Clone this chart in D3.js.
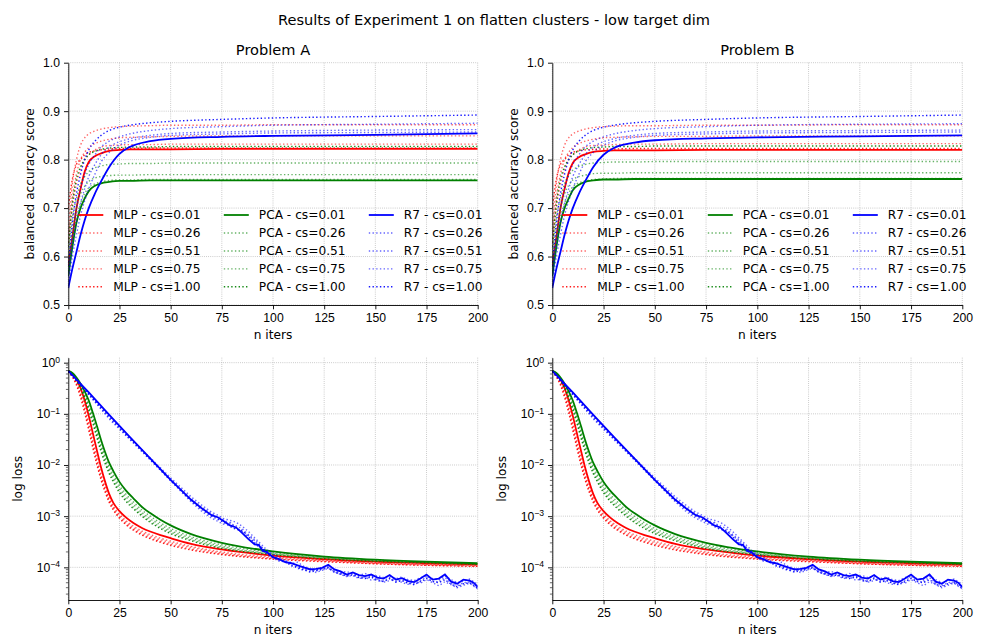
<!DOCTYPE html>
<html>
<head>
<meta charset="utf-8">
<script src="https://cdn.jsdelivr.net/npm/d3@7"></script>
<style>
  body { margin: 0; background: #fff; }
  svg { font-family: 'DejaVu Sans', sans-serif; }
</style>
</head>
<body>
<svg id="chart" width="988" height="636"></svg>
<script>

// ---- data ----

const methods = ['MLP', 'PCA', 'R7'];
const methodColors = ['red', 'green', 'blue'];
const csLabels = ['0.01', '0.26', '0.51', '0.75', '1.00'];

const xTicks = [0, 25, 50, 75, 100, 125, 150, 175, 200];
const accTicks = [0.5, 0.6, 0.7, 0.8, 0.9, 1.0];
const lossDecades = [1, 0.1, 0.01, 0.001, 0.0001];

// balanced accuracy, sampled at these iterations (one array per cs value)
const accIters = [0, 2, 4, 6, 8, 10, 13, 16, 20, 25, 30, 40, 50, 75, 100, 150, 200];

const accA_MLP = [
  [0.58, 0.64, 0.70, 0.74, 0.775, 0.795, 0.807, 0.813, 0.818, 0.820, 0.821, 0.821, 0.821, 0.822, 0.822, 0.822, 0.822],
  [0.62, 0.70, 0.75, 0.78, 0.80, 0.81, 0.82, 0.826, 0.829, 0.830, 0.831, 0.831, 0.832, 0.832, 0.832, 0.832, 0.832],
  [0.63, 0.72, 0.77, 0.80, 0.815, 0.825, 0.833, 0.838, 0.842, 0.845, 0.846, 0.847, 0.848, 0.849, 0.849, 0.849, 0.849],
  [0.65, 0.75, 0.80, 0.83, 0.845, 0.853, 0.859, 0.863, 0.866, 0.868, 0.869, 0.870, 0.871, 0.871, 0.872, 0.872, 0.872],
  [0.70, 0.76, 0.79, 0.80, 0.81, 0.815, 0.818, 0.820, 0.822, 0.823, 0.823, 0.824, 0.824, 0.824, 0.824, 0.824, 0.824]
];
const accA_PCA = [
  [0.56, 0.62, 0.67, 0.70, 0.72, 0.735, 0.746, 0.751, 0.754, 0.756, 0.756, 0.757, 0.757, 0.757, 0.757, 0.757, 0.757],
  [0.57, 0.63, 0.68, 0.71, 0.73, 0.742, 0.750, 0.754, 0.757, 0.758, 0.758, 0.759, 0.759, 0.759, 0.759, 0.759, 0.759],
  [0.58, 0.65, 0.70, 0.73, 0.745, 0.755, 0.762, 0.765, 0.767, 0.768, 0.768, 0.769, 0.769, 0.769, 0.769, 0.769, 0.769],
  [0.60, 0.68, 0.72, 0.75, 0.765, 0.775, 0.783, 0.787, 0.790, 0.791, 0.792, 0.792, 0.793, 0.793, 0.793, 0.793, 0.793],
  [0.62, 0.71, 0.76, 0.785, 0.80, 0.81, 0.817, 0.821, 0.824, 0.825, 0.826, 0.826, 0.827, 0.827, 0.827, 0.827, 0.827]
];
const accA_R7 = [
  [0.535, 0.575, 0.61, 0.645, 0.675, 0.70, 0.73, 0.755, 0.785, 0.812, 0.826, 0.838, 0.843, 0.847, 0.849, 0.851, 0.854],
  [0.54, 0.60, 0.645, 0.685, 0.715, 0.74, 0.77, 0.795, 0.815, 0.83, 0.838, 0.846, 0.850, 0.853, 0.855, 0.856, 0.857],
  [0.55, 0.62, 0.67, 0.71, 0.74, 0.765, 0.79, 0.81, 0.826, 0.837, 0.843, 0.850, 0.854, 0.857, 0.859, 0.861, 0.862],
  [0.56, 0.64, 0.70, 0.74, 0.77, 0.79, 0.81, 0.826, 0.838, 0.847, 0.853, 0.860, 0.864, 0.868, 0.871, 0.873, 0.875],
  [0.58, 0.67, 0.73, 0.77, 0.80, 0.82, 0.838, 0.85, 0.86, 0.867, 0.871, 0.876, 0.879, 0.883, 0.886, 0.889, 0.892]
];

const accB_MLP = [
  [0.58, 0.64, 0.70, 0.74, 0.773, 0.793, 0.805, 0.811, 0.816, 0.818, 0.819, 0.819, 0.819, 0.820, 0.820, 0.820, 0.820],
  [0.62, 0.70, 0.75, 0.78, 0.80, 0.81, 0.82, 0.826, 0.829, 0.830, 0.831, 0.832, 0.832, 0.833, 0.833, 0.833, 0.833],
  [0.63, 0.72, 0.77, 0.80, 0.815, 0.825, 0.833, 0.838, 0.842, 0.845, 0.846, 0.847, 0.848, 0.848, 0.849, 0.849, 0.849],
  [0.65, 0.75, 0.80, 0.83, 0.845, 0.853, 0.859, 0.863, 0.866, 0.868, 0.869, 0.870, 0.870, 0.871, 0.871, 0.872, 0.872],
  [0.70, 0.76, 0.79, 0.80, 0.81, 0.815, 0.818, 0.820, 0.821, 0.822, 0.822, 0.823, 0.823, 0.823, 0.823, 0.823, 0.823]
];
const accB_PCA = [
  [0.56, 0.62, 0.67, 0.70, 0.72, 0.737, 0.748, 0.754, 0.757, 0.759, 0.759, 0.760, 0.760, 0.760, 0.760, 0.760, 0.760],
  [0.57, 0.63, 0.68, 0.71, 0.73, 0.744, 0.752, 0.756, 0.759, 0.760, 0.761, 0.761, 0.761, 0.761, 0.761, 0.761, 0.761],
  [0.58, 0.65, 0.70, 0.73, 0.747, 0.758, 0.765, 0.768, 0.771, 0.772, 0.772, 0.773, 0.773, 0.773, 0.773, 0.773, 0.773],
  [0.60, 0.68, 0.72, 0.75, 0.767, 0.778, 0.786, 0.790, 0.793, 0.794, 0.795, 0.795, 0.796, 0.796, 0.796, 0.796, 0.796],
  [0.62, 0.71, 0.76, 0.785, 0.80, 0.81, 0.818, 0.822, 0.825, 0.826, 0.827, 0.827, 0.828, 0.828, 0.828, 0.828, 0.828]
];
const accB_R7 = [
  [0.535, 0.575, 0.61, 0.645, 0.675, 0.70, 0.73, 0.755, 0.785, 0.810, 0.824, 0.835, 0.840, 0.844, 0.846, 0.848, 0.850],
  [0.54, 0.60, 0.645, 0.685, 0.715, 0.74, 0.77, 0.795, 0.815, 0.83, 0.838, 0.846, 0.850, 0.853, 0.855, 0.856, 0.857],
  [0.55, 0.62, 0.67, 0.71, 0.74, 0.765, 0.79, 0.81, 0.826, 0.837, 0.843, 0.850, 0.854, 0.857, 0.859, 0.860, 0.861],
  [0.56, 0.64, 0.70, 0.74, 0.77, 0.79, 0.81, 0.826, 0.838, 0.847, 0.853, 0.860, 0.864, 0.868, 0.871, 0.873, 0.874],
  [0.58, 0.67, 0.73, 0.77, 0.80, 0.82, 0.838, 0.85, 0.86, 0.867, 0.871, 0.876, 0.879, 0.883, 0.886, 0.889, 0.892]
];

// log loss, read as log10(loss) off the log axis (same in both problems)
const lossIters = [0, 2, 4, 6, 8, 10, 12, 14, 16, 18, 20, 22, 25, 28, 32, 36, 40, 45, 50, 60, 75, 100, 125, 150, 175, 200];

const lossMLP = [
  [-0.16, -0.22, -0.33, -0.50, -0.74, -1.04, -1.38, -1.72, -2.05, -2.33, -2.57, -2.74, -2.90, -3.02, -3.14, -3.23, -3.30, -3.37, -3.43, -3.54, -3.65, -3.77, -3.84, -3.89, -3.92, -3.94],
  [-0.17, -0.25, -0.38, -0.58, -0.85, -1.17, -1.52, -1.86, -2.17, -2.43, -2.64, -2.80, -2.96, -3.08, -3.20, -3.29, -3.36, -3.43, -3.49, -3.59, -3.70, -3.80, -3.86, -3.91, -3.94, -3.96],
  [-0.17, -0.26, -0.40, -0.62, -0.90, -1.23, -1.58, -1.92, -2.22, -2.47, -2.67, -2.83, -2.99, -3.11, -3.23, -3.32, -3.39, -3.46, -3.52, -3.61, -3.72, -3.82, -3.87, -3.92, -3.95, -3.97],
  [-0.18, -0.27, -0.42, -0.65, -0.94, -1.28, -1.63, -1.96, -2.26, -2.50, -2.70, -2.86, -3.02, -3.14, -3.26, -3.35, -3.42, -3.49, -3.55, -3.64, -3.74, -3.83, -3.88, -3.93, -3.96, -3.98],
  [-0.18, -0.28, -0.44, -0.68, -0.98, -1.32, -1.67, -2.00, -2.29, -2.53, -2.73, -2.88, -3.04, -3.16, -3.28, -3.37, -3.44, -3.51, -3.57, -3.66, -3.75, -3.84, -3.89, -3.93, -3.96, -3.98]
];
const lossPCA = [
  [-0.16, -0.20, -0.29, -0.41, -0.56, -0.74, -0.98, -1.24, -1.51, -1.75, -1.96, -2.12, -2.33, -2.49, -2.66, -2.82, -2.94, -3.07, -3.18, -3.35, -3.52, -3.69, -3.79, -3.85, -3.89, -3.92],
  [-0.16, -0.21, -0.31, -0.44, -0.61, -0.81, -1.06, -1.33, -1.60, -1.83, -2.03, -2.19, -2.40, -2.56, -2.73, -2.88, -3.00, -3.13, -3.24, -3.40, -3.56, -3.71, -3.80, -3.86, -3.90, -3.93],
  [-0.17, -0.22, -0.32, -0.46, -0.64, -0.85, -1.11, -1.38, -1.65, -1.88, -2.08, -2.24, -2.45, -2.61, -2.78, -2.93, -3.05, -3.17, -3.28, -3.43, -3.59, -3.73, -3.81, -3.87, -3.90, -3.93],
  [-0.17, -0.23, -0.34, -0.48, -0.67, -0.89, -1.15, -1.43, -1.70, -1.93, -2.13, -2.29, -2.50, -2.66, -2.83, -2.97, -3.09, -3.21, -3.31, -3.46, -3.61, -3.74, -3.82, -3.88, -3.91, -3.94],
  [-0.17, -0.23, -0.35, -0.50, -0.70, -0.93, -1.19, -1.47, -1.74, -1.97, -2.17, -2.33, -2.54, -2.70, -2.86, -3.00, -3.12, -3.24, -3.34, -3.48, -3.63, -3.75, -3.83, -3.88, -3.91, -3.94]
];

const r7LossIters = [0, 10, 20, 30, 40, 50, 60, 65, 70, 73, 76, 79, 82, 85, 88, 91, 93, 95, 97, 100,
  103, 106, 109, 112, 115, 118, 121, 124, 127, 130, 133, 136, 139, 142, 145, 148, 151, 154, 157, 160,
  163, 166, 169, 172, 175, 178, 181, 184, 187, 190, 193, 196, 198, 200];

const lossR7 = [
  [-0.16, -0.58, -1.02, -1.45, -1.87, -2.29, -2.68, -2.84, -2.98, -3.02, -3.10, -3.18, -3.22, -3.33, -3.45, -3.55, -3.56, -3.68, -3.70, -3.80,
   -3.84, -3.90, -3.92, -3.96, -4.00, -4.04, -4.03, -4.01, -3.95, -4.04, -4.08, -4.14, -4.10, -4.15, -4.17, -4.14, -4.20, -4.22, -4.15, -4.24,
   -4.21, -4.27, -4.29, -4.22, -4.14, -4.24, -4.22, -4.14, -4.28, -4.32, -4.24, -4.26, -4.30, -4.38],
  [-0.17, -0.62, -1.10, -1.50, -1.90, -2.31, -2.72, -2.90, -3.04, -3.10, -3.16, -3.12, -3.24, -3.30, -3.38, -3.48, -3.58, -3.62, -3.74, -3.82,
   -3.88, -3.86, -3.95, -4.02, -4.06, -4.03, -4.10, -4.06, -4.02, -4.08, -4.14, -4.18, -4.16, -4.22, -4.19, -4.25, -4.23, -4.29, -4.26, -4.21,
   -4.30, -4.33, -4.27, -4.31, -4.24, -4.30, -4.36, -4.28, -4.34, -4.40, -4.35, -4.31, -4.37, -4.42],
  [-0.16, -0.60, -1.06, -1.48, -1.86, -2.25, -2.62, -2.78, -2.92, -2.98, -3.05, -3.08, -3.12, -3.20, -3.30, -3.42, -3.50, -3.58, -3.66, -3.74,
   -3.80, -3.88, -3.93, -3.90, -3.98, -4.02, -4.06, -4.00, -3.98, -4.06, -4.10, -4.08, -4.13, -4.16, -4.12, -4.18, -4.16, -4.20, -4.17, -4.22,
   -4.19, -4.24, -4.26, -4.20, -4.18, -4.22, -4.25, -4.17, -4.24, -4.30, -4.27, -4.23, -4.28, -4.33],
  [-0.17, -0.63, -1.08, -1.49, -1.89, -2.28, -2.66, -2.82, -2.95, -3.02, -3.08, -3.14, -3.19, -3.25, -3.36, -3.46, -3.53, -3.63, -3.69, -3.78,
   -3.85, -3.91, -3.90, -3.99, -4.03, -4.07, -4.05, -4.03, -4.00, -4.09, -4.12, -4.16, -4.13, -4.19, -4.21, -4.17, -4.24, -4.26, -4.20, -4.27,
   -4.25, -4.30, -4.32, -4.26, -4.19, -4.27, -4.29, -4.20, -4.31, -4.36, -4.30, -4.29, -4.33, -4.40],
  [-0.17, -0.61, -1.04, -1.46, -1.88, -2.30, -2.70, -2.86, -3.00, -3.06, -3.12, -3.20, -3.26, -3.28, -3.40, -3.52, -3.60, -3.64, -3.72, -3.80,
   -3.86, -3.89, -3.97, -4.00, -4.05, -4.09, -4.07, -4.04, -4.01, -4.10, -4.13, -4.17, -4.15, -4.20, -4.22, -4.19, -4.26, -4.28, -4.22, -4.29,
   -4.26, -4.31, -4.34, -4.28, -4.22, -4.28, -4.30, -4.24, -4.33, -4.38, -4.32, -4.30, -4.35, -4.41]
];

// ---- layout ----

const colsX = [[68.3, 477.7], [552.3, 962.3]];
const accY = [62.7, 305];
const lossY = [357.7, 600];
const lossDomain = [2.3e-5, 1.25];

const csAlpha = [1, 0.6, 0.6, 0.6, 0.9];
const gridColor = '#b0b0b0';
const fontSize = 12.2;

const svg = d3.select('#chart');

svg.append('text')
  .attr('x', 494)
  .attr('y', 25)
  .attr('text-anchor', 'middle')
  .style('font-size', '14.6px')
  .text('Results of Experiment 1 on flatten clusters - low target dim');


function styleLine(path, color, i) {
  path.attr('fill', 'none')
    .attr('stroke', color)
    .attr('stroke-opacity', csAlpha[i])
    .attr('stroke-width', i === 0 ? 1.8 : 1.4)
    .attr('stroke-dasharray', i === 0 ? null : '1.4,2.3');
  return path;
}


function drawGrid(g, x, y, yTicks, x0, x1, y0, y1) {

  g.selectAll('.vgrid')
    .data(xTicks)
    .enter()
    .append('line')
    .attr('x1', function(d) { return x(d); })
    .attr('x2', function(d) { return x(d); })
    .attr('y1', y0)
    .attr('y2', y1);

  g.selectAll('.hgrid')
    .data(yTicks)
    .enter()
    .append('line')
    .attr('x1', x0)
    .attr('x2', x1)
    .attr('y1', function(d) { return y(d); })
    .attr('y2', function(d) { return y(d); });

  g.selectAll('line')
    .attr('stroke', gridColor)
    .attr('stroke-width', 0.8)
    .attr('stroke-dasharray', '0.8,1.32');
}


function drawXAxis(g, x, yBottom, xCenter) {

  const ax = g.append('g')
    .attr('transform', 'translate(0,' + yBottom + ')')
    .call(d3.axisBottom(x).tickValues(xTicks).tickSize(4.3).tickPadding(4).tickSizeOuter(0));

  ax.selectAll('text').style('font-size', fontSize + 'px').attr('fill', '#000');
  ax.selectAll('line, path').attr('stroke', '#000').attr('stroke-width', 0.9);

  g.append('text')
    .attr('x', xCenter)
    .attr('y', yBottom + 34)
    .attr('text-anchor', 'middle')
    .style('font-size', fontSize + 'px')
    .text('n iters');
}


function drawLegend(g, x0, yTop) {

  const colText = [45, 190.5, 335.5];
  const rowY = [152.3, 170.3, 188.3, 206.2, 224.1];

  methods.forEach(function(m, mi) {
    csLabels.forEach(function(cs, i) {
      const ty = yTop + rowY[i];
      const tx = x0 + colText[mi];
      styleLine(g.append('line'), methodColors[mi], i)
        .attr('x1', tx - 35)
        .attr('x2', tx - 10)
        .attr('y1', ty)
        .attr('y2', ty);
      g.append('text')
        .attr('x', tx)
        .attr('y', ty)
        .attr('dy', '0.36em')
        .style('font-size', fontSize + 'px')
        .text(m + ' - cs=' + cs);
    });
  });
}


function drawPanel(col, title, accSets, clipId) {

  const x0 = colsX[col][0], x1 = colsX[col][1];
  const x = d3.scaleLinear().domain([0, 200]).range([x0, x1]);
  const xc = (x0 + x1) / 2;

  // ---- accuracy ----
  const yA = d3.scaleLinear().domain([0.5, 1.0]).range([accY[1], accY[0]]);
  const gA = svg.append('g');

  svg.append('clipPath').attr('id', clipId + 'a')
    .append('rect').attr('x', x0).attr('y', accY[0]).attr('width', x1 - x0).attr('height', accY[1] - accY[0]);

  drawGrid(gA.append('g'), x, yA, accTicks, x0, x1, accY[0], accY[1]);

  const lineA = d3.line()
    .curve(d3.curveMonotoneX)
    .x(function(d) { return x(d[0]); })
    .y(function(d) { return yA(d[1]); });

  const linesA = gA.append('g').attr('clip-path', 'url(#' + clipId + 'a)');
  accSets.forEach(function(set, mi) {
    set.forEach(function(vals, i) {
      styleLine(linesA.append('path'), methodColors[mi], i)
        .attr('d', lineA(accIters.map(function(it, j) { return [it, vals[j]]; })));
    });
  });

  drawLegend(gA, x0, accY[0]);

  const ayA = gA.append('g')
    .attr('transform', 'translate(' + x0 + ',0)')
    .call(d3.axisLeft(yA).tickValues(accTicks).tickFormat(d3.format('.1f')).tickSize(4.3).tickPadding(4).tickSizeOuter(0));
  ayA.selectAll('text').style('font-size', fontSize + 'px').attr('fill', '#000');
  ayA.selectAll('line, path').attr('stroke', '#000').attr('stroke-width', 0.9);

  drawXAxis(gA, x, accY[1], xc);

  gA.append('text')
    .attr('transform', 'translate(' + (x0 - 34) + ',' + ((accY[0] + accY[1]) / 2) + ') rotate(-90)')
    .attr('text-anchor', 'middle')
    .style('font-size', fontSize + 'px')
    .text('balanced accuracy score');

  gA.append('text')
    .attr('x', xc)
    .attr('y', accY[0] - 7.5)
    .attr('text-anchor', 'middle')
    .style('font-size', '14.6px')
    .text(title);

  // ---- log loss ----
  const yL = d3.scaleLog().domain(lossDomain).range([lossY[1], lossY[0]]);
  const gL = svg.append('g');

  svg.append('clipPath').attr('id', clipId + 'l')
    .append('rect').attr('x', x0).attr('y', lossY[0]).attr('width', x1 - x0).attr('height', lossY[1] - lossY[0]);

  drawGrid(gL.append('g'), x, yL, lossDecades, x0, x1, lossY[0], lossY[1]);

  const lineL = d3.line()
    .x(function(d) { return x(d[0]); })
    .y(function(d) { return yL(Math.pow(10, d[1])); });

  const linesL = gL.append('g').attr('clip-path', 'url(#' + clipId + 'l)');
  [lossMLP, lossPCA, lossR7].forEach(function(set, mi) {
    const its = mi === 2 ? r7LossIters : lossIters;
    set.forEach(function(vals, i) {
      styleLine(linesL.append('path'), methodColors[mi], i)
        .attr('d', lineL.curve(mi === 2 ? d3.curveLinear : d3.curveMonotoneX)(its.map(function(it, j) { return [it, vals[j]]; })));
    });
  });

  // minor ticks from the log scale
  const minor = yL.ticks().filter(function(d) {
    return lossDecades.indexOf(d) < 0 && Math.abs(Math.log10(d) - Math.round(Math.log10(d))) > 1e-6;
  });
  gL.selectAll('.minor')
    .data(minor)
    .enter()
    .append('line')
    .attr('x1', x0 - 2.4)
    .attr('x2', x0)
    .attr('y1', function(d) { return yL(d); })
    .attr('y2', function(d) { return yL(d); })
    .attr('stroke', '#000')
    .attr('stroke-width', 0.6);

  const ayL = gL.append('g')
    .attr('transform', 'translate(' + x0 + ',0)')
    .call(d3.axisLeft(yL).tickValues(lossDecades).tickFormat(function() { return ''; }).tickSize(4.3).tickPadding(4).tickSizeOuter(0));
  ayL.selectAll('line, path').attr('stroke', '#000').attr('stroke-width', 0.9);
  ayL.selectAll('.tick text')
    .style('font-size', fontSize + 'px')
    .attr('fill', '#000')
    .each(function(d) {
      const e = Math.round(Math.log10(d));
      const t = d3.select(this);
      t.append('tspan').text('10');
      t.append('tspan')
        .attr('dy', '-0.5em')
        .style('font-size', '8.6px')
        .text(e === 0 ? '0' : '\u2212' + Math.abs(e));
    });

  drawXAxis(gL, x, lossY[1], xc);

  gL.append('text')
    .attr('transform', 'translate(' + (x0 - 46) + ',' + ((lossY[0] + lossY[1]) / 2) + ') rotate(-90)')
    .attr('text-anchor', 'middle')
    .style('font-size', fontSize + 'px')
    .text('log loss');
}


drawPanel(0, 'Problem A', [accA_MLP, accA_PCA, accA_R7], 'clipA');
drawPanel(1, 'Problem B', [accB_MLP, accB_PCA, accB_R7], 'clipB');

</script>
</body>
</html>
